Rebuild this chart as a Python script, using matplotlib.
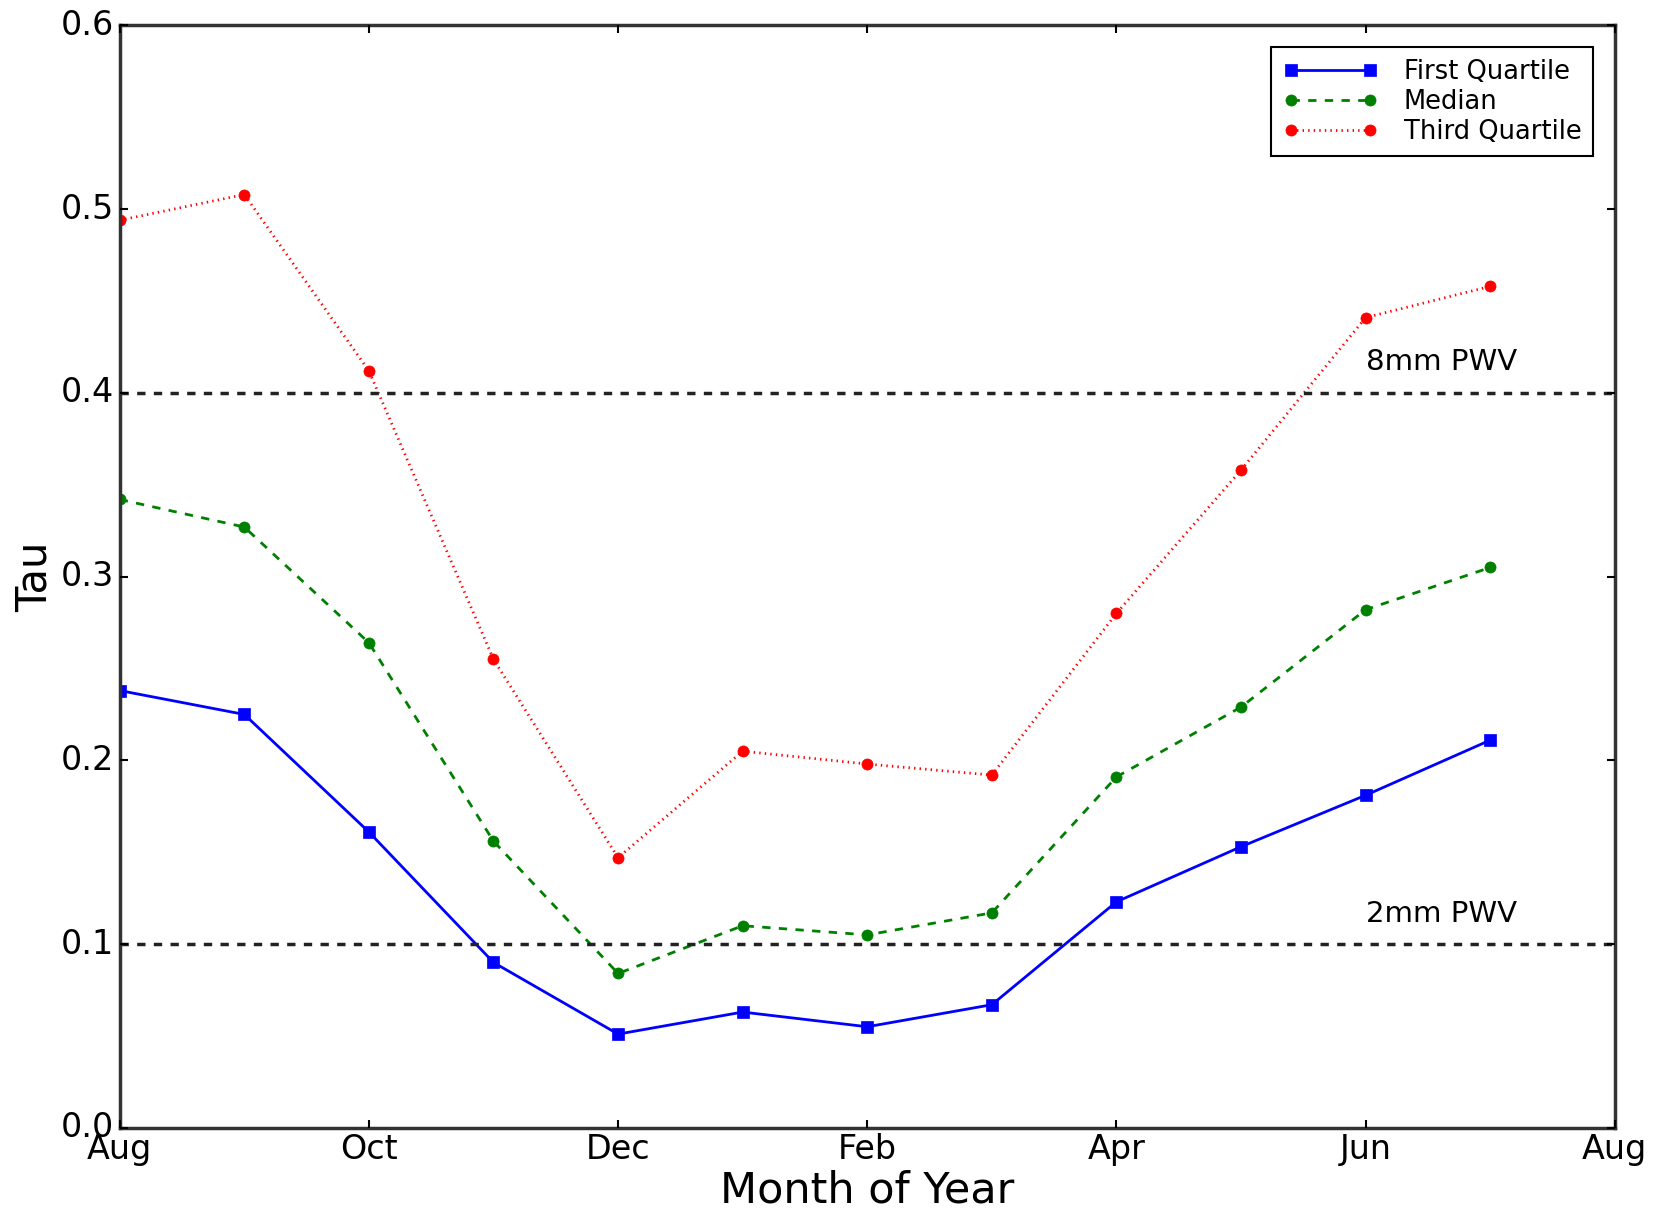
# seasonal tau quartiles at the site
import matplotlib
matplotlib.use('Agg')
import matplotlib.pyplot as plt
import numpy as np

# ------ Data ------
months = ['Aug', 'Sep', 'Oct', 'Nov', 'Dec', 'Jan', 'Feb', 'Mar', 'Apr', 'May', 'Jun', 'Jul']
tick_labels = ['Aug', 'Oct', 'Dec', 'Feb', 'Apr', 'Jun', 'Aug']
first_q = [0.238, 0.225, 0.161, 0.090, 0.051, 0.063, 0.055, 0.067, 0.123, 0.153, 0.181, 0.211]
median = [0.342, 0.327, 0.264, 0.156, 0.084, 0.110, 0.105, 0.117, 0.191, 0.229, 0.282, 0.305]
third_q = [0.494, 0.508, 0.412, 0.255, 0.147, 0.205, 0.198, 0.192, 0.280, 0.358, 0.441, 0.458]
pwv_levels = [0.1, 0.4]
pwv_labels = ['2mm PWV', '8mm PWV']

# ------ Plot ------
plt.style.use('classic')
fig = plt.figure(figsize=(16.63, 12.14), dpi=100)
ax = fig.add_axes([0.072, 0.071, 0.899, 0.908])

x = np.arange(len(months))
ax.plot(x, first_q, lw=2, linestyle='solid', color='b', marker='s', markersize=8, mec='b', label='First Quartile')
ax.plot(x, median, lw=2, linestyle='dashed', color='g', marker='o', markersize=8, mec='g', label='Median')
ax.plot(x, third_q, lw=2, linestyle='dotted', color='r', marker='o', markersize=8, mec='r', label='Third Quartile')

for lvl, lab in zip(pwv_levels, pwv_labels):
    ax.axhline(lvl, color='#222222', lw=2.5, linestyle='dashed')
    ax.text(10.0, lvl + 0.009, lab, fontsize=21, ha='left', va='bottom')

ax.set_xlim(0, 12)
ax.set_ylim(0, 0.6)
ax.set_xticks(np.arange(0, 13, 2))
ax.set_xticklabels(tick_labels)
ax.set_yticks(np.arange(0, 0.61, 0.1))
ax.tick_params(labelsize=24, width=1.5, length=6)
for sp in ax.spines.values():
    sp.set_linewidth(2.5)
    sp.set_color('#333333')

ax.set_xlabel('Month of Year', fontsize=31, labelpad=2)
ax.set_ylabel('Tau', fontsize=30, labelpad=4)

leg = ax.legend(loc='upper right', fontsize=18.5, numpoints=2, borderaxespad=0.85,
                handlelength=3.7, handletextpad=1.0, labelspacing=0.15, borderpad=0.45)
leg.get_frame().set_linewidth(1.5)
leg._legend_box.sep = 4

plt.savefig('out.png', dpi=100)
